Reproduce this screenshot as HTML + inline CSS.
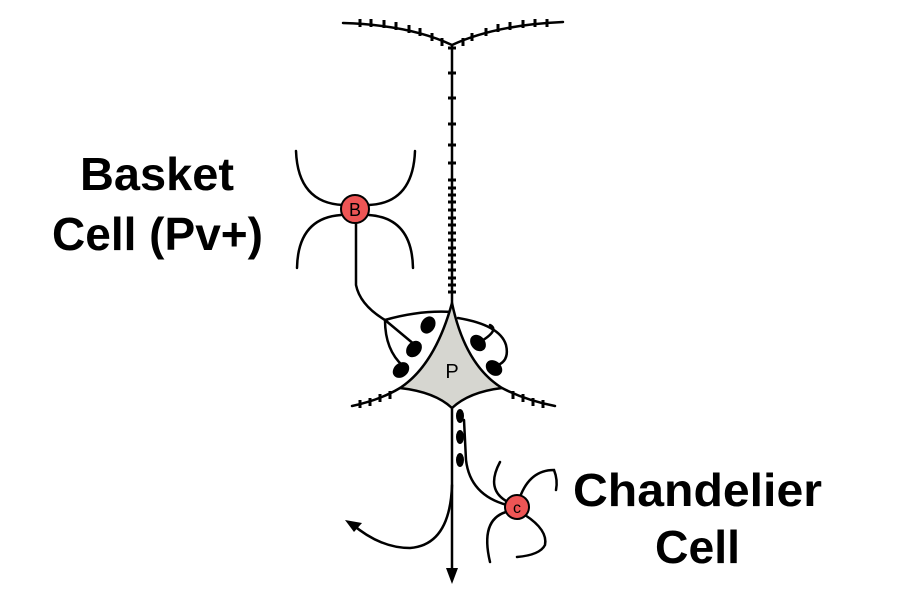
<!DOCTYPE html>
<html><head><style>
html,body{margin:0;padding:0;background:#fff;}
svg{display:block;}
text{font-family:"Liberation Sans",Arial,sans-serif;}
</style></head><body>
<svg width="900" height="600" viewBox="0 0 900 600" xmlns="http://www.w3.org/2000/svg">
<g fill="none" stroke="#000" stroke-width="2.5" stroke-linecap="round">
<path d="M343,23 Q410,25 452,45 Q495,25 563,22"/>
<path d="M452,45 L452,303"/>
<path d="M400,388 Q380,400 352,406"/>
<path d="M502,388 Q525,400 555,406"/>
<path d="M452,408 L452,575"/>
<path d="M452,485 Q450,545 410,548 Q380,548 352,524"/>
<path d="M507,505 Q470,495 466,460 L464,420"/>
<path d="M296,151 Q298,203 343,205"/>
<path d="M415,151 Q413,203 369,205"/>
<path d="M297,268 Q298,218 341,215"/>
<path d="M413,268 Q412,218 369,215"/>
<path d="M356,223 L356,285 Q360,305 385,320"/>
<path d="M385,320 Q420,310 452,312"/>
<path d="M385,320 L415,345"/>
<path d="M385,320 Q385,350 403,366"/>
<path d="M458,318 Q500,325 506,345 Q510,362 495,366"/>
<path d="M480,342 Q500,330 490,325"/>
<path d="M508,502 Q485,490 500,462"/>
<path d="M520,497 Q530,470 554,470 Q558,480 556,490"/>
<path d="M506,512 Q480,520 490,562"/>
<path d="M525,515 Q548,530 545,545 Q540,555 517,557"/>
</g>
<g stroke="#000" stroke-width="3">
<path d="M448,48h8M448,73h8M448,98h8M448,124h8M448,145h8M448,163h8M448,180h8M448,188h8M448,195h8M448,202h8M448,210h8M448,218h8M448,225h8M448,233h8M448,240h8M448,248h8M448,255h8M448,262h8M448,270h8M448,278h8M448,285h8M448,292h8"/>
<path d="M360,19v8M371,19v8M384,20v8M396,22v8M409,25v8M420,28v8M432,33v8M442,38v8M463,38v8M472,33v8M486,28v8M498,24v8M510,22v8M523,20v8M535,19v8M547,19v8"/>
<path d="M360,400v8M370,398v8M380,394v8M390,391v8M513,391v8M523,394v8M533,398v8M543,400v8"/>
</g>
<path d="M452,303 Q435,365 400,388 Q435,392 452,408 Q469,392 502,388 Q465,365 452,303 Z" fill="#d6d6d0" stroke="#000" stroke-width="2.5" stroke-linejoin="round"/>
<text x="452" y="378" font-size="20" text-anchor="middle">P</text>
<g fill="#000">
<ellipse cx="428" cy="325" rx="7" ry="9" transform="rotate(30 428 325)"/>
<ellipse cx="414" cy="349" rx="7" ry="9" transform="rotate(40 414 349)"/>
<ellipse cx="401" cy="370" rx="7" ry="9" transform="rotate(50 401 370)"/>
<ellipse cx="478" cy="343" rx="7" ry="9" transform="rotate(-40 478 343)"/>
<ellipse cx="494" cy="368" rx="7" ry="9" transform="rotate(-50 494 368)"/>
<ellipse cx="460" cy="416" rx="4" ry="7"/>
<ellipse cx="460" cy="437" rx="4" ry="7"/>
<ellipse cx="460" cy="460" rx="4" ry="7"/>
</g>
<path d="M446,568 L452,584 L458,568 Z" fill="#000"/>
<path d="M345,520 L362,523 L354,532 Z" fill="#000"/>
<circle cx="355" cy="209" r="14" fill="#ee5555" stroke="#000" stroke-width="2"/>
<text x="355" y="216" font-size="18" text-anchor="middle">B</text>
<circle cx="517" cy="507" r="12" fill="#ee5555" stroke="#000" stroke-width="2"/>
<text x="517" y="513" font-size="16" text-anchor="middle">c</text>
<g font-size="46" font-weight="bold" fill="#000">
<text x="80" y="190" textLength="154" lengthAdjust="spacingAndGlyphs">Basket</text>
<text x="52" y="250" textLength="211" lengthAdjust="spacingAndGlyphs">Cell (Pv+)</text>
<text x="573" y="506" textLength="249" lengthAdjust="spacingAndGlyphs">Chandelier</text>
<text x="655" y="563" textLength="85" lengthAdjust="spacingAndGlyphs">Cell</text>
</g>
</svg>
</body></html>
